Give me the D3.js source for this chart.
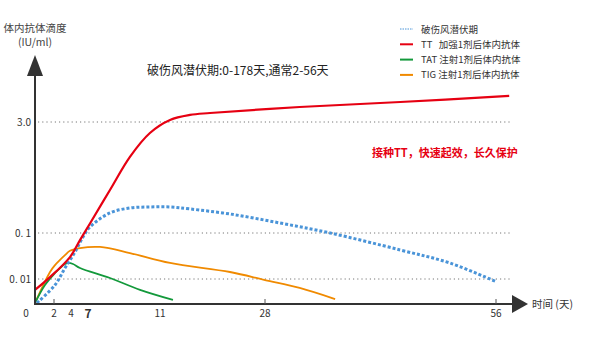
<!DOCTYPE html>
<html><head><meta charset="utf-8">
<script src="https://cdn.jsdelivr.net/npm/d3@7"></script>
<style>
body{margin:0;background:#fff;}
text{font-family:"Noto Sans CJK SC","Noto Sans",sans-serif;white-space:pre;}
</style></head>
<body><svg id="c" width="591" height="338"></svg>
<script>
// ---- data ----
const xTickLabels = [0, 2, 4, 7, 11, 28, 56];
const xTickMarks = [2, 28, 56];
const yTickValues = [0.01, 0.1, 3.0];
const yTickLabels = ["0. 01", "0. 1", "3.0"];
const legendLabels = ["破伤风潜伏期", "TT   加强1剂后体内抗体", "TAT 注射1剂后体内抗体", "TIG 注射1剂后体内抗体"];
const redTT = [[0,0.0058],[1.58,0.011],[3.88,0.030],[5.59,0.070],[7.11,0.134],[8.22,0.373],[9.33,1.03],[10.44,2.14],[12.62,3.19],[15.86,3.73],[19.1,3.96],[32.2,4.77],[44.4,5.56],[57.6,6.7]];
const blueLatent = [[0.2,0.003],[2.12,0.0074],[3.29,0.0173],[4.71,0.0386],[6.12,0.082],[7.11,0.12],[8.22,0.185],[9.33,0.215],[10.44,0.222],[12.62,0.222],[15.86,0.209],[22.33,0.179],[29.8,0.136],[35.9,0.1],[44.4,0.0427],[50.4,0.0223],[56.1,0.0086]];
const orangeTIG = [[0,0.003],[1.58,0.0142],[2.12,0.020],[2.71,0.026],[3.29,0.033],[3.88,0.041],[5.59,0.047],[7.67,0.0497],[9.33,0.0367],[12.62,0.0223],[22.33,0.0142],[28,0.0095],[32.2,0.0064],[36.5,0.00366]];
const greenTAT = [[0,0.003],[1.05,0.0074],[2.12,0.0135],[2.71,0.0173],[3.29,0.0212],[3.65,0.0223],[4.35,0.0212],[5.59,0.0173],[8.22,0.0105],[9.89,0.0058],[13.1,0.0035]];

const svg = d3.select("#c");
const x = d3.scaleLinear().domain([0,2,4,7,11,28,56]).range([35,54,71,88,160,265,496]);
const y = d3.scaleLog().domain([0.003,0.01,0.1,3,10]).range([303,279,233,122,83]);

// gridlines
svg.append("g").selectAll("line").data(yTickValues).join("line")
  .attr("x1",38).attr("x2",511).attr("y1",d=>y(d)).attr("y2",d=>y(d))
  .attr("stroke","#777").attr("stroke-width",1).attr("stroke-dasharray","1.2,3");

// y labels
svg.append("g").selectAll("text").data(yTickValues).join("text")
  .attr("x",31).attr("y",d=>y(d)+3.5).attr("text-anchor","end")
  .attr("font-size",10).attr("fill","#333").text((d,i)=>yTickLabels[i]);

// curves
const line = d3.line().x(d=>x(d[0])).y(d=>y(d[1])).curve(d3.curveCatmullRom.alpha(0.5));
svg.append("path").datum(orangeTIG).attr("d",line).attr("fill","none").attr("stroke","#f08a00").attr("stroke-width",1.8);
svg.append("path").datum(greenTAT).attr("d",line).attr("fill","none").attr("stroke","#13993b").attr("stroke-width",1.8);
svg.append("path").datum(blueLatent).attr("d",line).attr("fill","none").attr("stroke","#4a94d8").attr("stroke-width",3).attr("stroke-dasharray","3,2");
svg.append("path").datum(redTT).attr("d",line).attr("fill","none").attr("stroke","#e60012").attr("stroke-width",2.2);

// axes lines
svg.append("line").attr("x1",35).attr("x2",35).attr("y1",72).attr("y2",305).attr("stroke","#333").attr("stroke-width",2);
svg.append("line").attr("x1",34).attr("x2",514).attr("y1",304).attr("y2",304).attr("stroke","#333").attr("stroke-width",2);
svg.append("path").attr("d","M35,55 L27,76 L43,76 Z").attr("fill","#333");
svg.append("path").attr("d","M528,304 L512,295 L512,313 Z").attr("fill","#333");

// x tick marks
svg.append("g").selectAll("line").data(xTickMarks).join("line")
  .attr("x1",d=>x(d)).attr("x2",d=>x(d)).attr("y1",299).attr("y2",304)
  .attr("stroke","#555").attr("stroke-width",1);
// x labels
svg.append("g").selectAll("text").data(xTickLabels).join("text")
  .attr("x",d=>d===0?26:x(d)).attr("y",d=>d===7?318:317).attr("text-anchor","middle")
  .attr("font-size",d=>d===7?12:10).attr("font-weight",d=>d===7?"bold":"normal")
  .attr("fill","#333").text(d=>d);

// axis titles
svg.append("text").attr("x",35).attr("y",32).attr("text-anchor","middle").attr("font-size",10.5).attr("fill","#444").text("体内抗体滴度");
svg.append("text").attr("x",35).attr("y",46).attr("text-anchor","middle").attr("font-size",10.5).attr("fill","#444").text("(IU/ml)");
svg.append("text").attr("x",532).attr("y",308).attr("font-size",10.5).attr("fill","#333").text("时间 (天)");

// title and annotation
svg.append("text").attr("x",147).attr("y",75).attr("font-size",12).attr("fill","#222").text("破伤风潜伏期:0-178天,通常2-56天");
svg.append("text").attr("x",372).attr("y",157).attr("font-size",11).attr("font-weight","bold").attr("fill","#e60012").text("接种TT，快速起效，长久保护");

// legend
const legColors = ["#4a94d8","#e60012","#13993b","#f08a00"];
const lg = svg.append("g");
legendLabels.forEach((t,i)=>{
  const yy = 29 + i*15.3;
  lg.append("line").attr("x1",400).attr("x2",413).attr("y1",yy).attr("y2",yy)
    .attr("stroke",legColors[i]).attr("stroke-width",i===0?1:2).attr("stroke-dasharray",i===0?"1.5,1":null);
  lg.append("text").attr("x",421).attr("y",yy+3.5).attr("font-size",9.5).attr("fill","#333").text(t);
});
</script></body></html>
